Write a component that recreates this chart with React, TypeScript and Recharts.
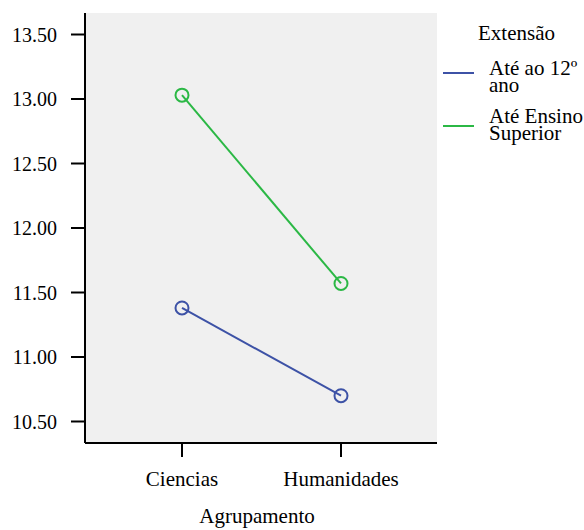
import React from "react";
import {
  LineChart,
  Line,
  XAxis,
  YAxis,
  CartesianGrid,
} from "recharts";

const categories = ["Ciencias", "Humanidades"];
const ate12 = [11.38, 10.7];
const ateSuperior = [13.03, 11.57];
const yTicks = [10.5, 11.0, 11.5, 12.0, 12.5, 13.0, 13.5];

const series = [
  { key: "ate12", name: "Até ao 12º ano", color: "#3d52a6", values: ate12 },
  { key: "ateSuperior", name: "Até Ensino Superior", color: "#2bb845", values: ateSuperior },
];

const data = categories.map((c, i) => {
  const row: Record<string, string | number> = { grupo: c };
  series.forEach((s) => {
    row[s.key] = s.values[i];
  });
  return row;
});

const FONT = "'Liberation Serif', Tinos, 'Times New Roman', 'DejaVu Serif', serif";
const yTickStyle = { fontSize: 20, fill: "#000", fontFamily: FONT };
const xTickStyle = { fontSize: 21, fill: "#000", fontFamily: FONT };
const axisStroke = { stroke: "#000", strokeWidth: 2 };

// legend rows: line y / text top
const legendRows = [
  { lineY: 73, textTop: 60 },
  { lineY: 126, textTop: 108 },
];

export default function App() {
  return (
    <div
      style={{
        position: "absolute",
        left: 0,
        top: 0,
        width: 584,
        height: 530,
        background: "#fff",
        fontFamily: FONT,
      }}
    >
      <LineChart
        width={584}
        height={530}
        data={data}
        margin={{ top: 13, right: 147, bottom: 0, left: 0 }}
        style={{ fontFamily: FONT }}
      >
        <CartesianGrid
          horizontal={false}
          vertical={false}
          fill="#f0f0f0"
          fillOpacity={1}
        />
        <XAxis
          dataKey="grupo"
          height={87}
          padding={{ left: 97, right: 96 }}
          tick={xTickStyle}
          tickSize={14}
          tickMargin={14}
          tickLine={axisStroke}
          axisLine={axisStroke}
          label={{
            value: "Agrupamento",
            position: "insideBottom",
            offset: 7,
            dx: -4,
            style: { fontSize: 21, fill: "#000", fontFamily: FONT },
          }}
        />
        <XAxis
          xAxisId="top"
          orientation="top"
          dataKey="grupo"
          height={0}
          tick={false}
          tickLine={false}
          axisLine={axisStroke}
        />
        <YAxis
          width={85}
          domain={[10.3333, 13.6667]}
          ticks={yTicks}
          tickFormatter={(v: number) => v.toFixed(2)}
          tick={yTickStyle}
          tickSize={14}
          tickMargin={14}
          tickLine={axisStroke}
          axisLine={axisStroke}
          allowDataOverflow
        />
        <YAxis
          yAxisId="right"
          orientation="right"
          width={0}
          domain={[10.3333, 13.6667]}
          tick={false}
          tickLine={false}
          axisLine={axisStroke}
        />
        {series.map((s) => (
          <Line
            key={s.key}
            dataKey={s.key}
            name={s.name}
            stroke={s.color}
            strokeWidth={2}
            dot={{ r: 6.5, stroke: s.color, strokeWidth: 2, fill: "none" }}
            activeDot={false}
            isAnimationActive={false}
          />
        ))}
      </LineChart>

      <div
        style={{
          position: "absolute",
          left: 478,
          top: 24,
          fontSize: 21,
          lineHeight: "18px",
          color: "#000",
        }}
      >
        Extensão
      </div>
      {series.map((s, i) => (
        <React.Fragment key={s.key}>
          <div
            style={{
              position: "absolute",
              left: 443,
              top: legendRows[i].lineY - 1,
              width: 31,
              height: 2,
              background: s.color,
            }}
          />
          <div
            style={{
              position: "absolute",
              left: 489,
              top: legendRows[i].textTop,
              width: 95,
              fontSize: 21,
              lineHeight: "17px",
              color: "#000",
            }}
          >
            {s.name}
          </div>
        </React.Fragment>
      ))}
    </div>
  );
}
